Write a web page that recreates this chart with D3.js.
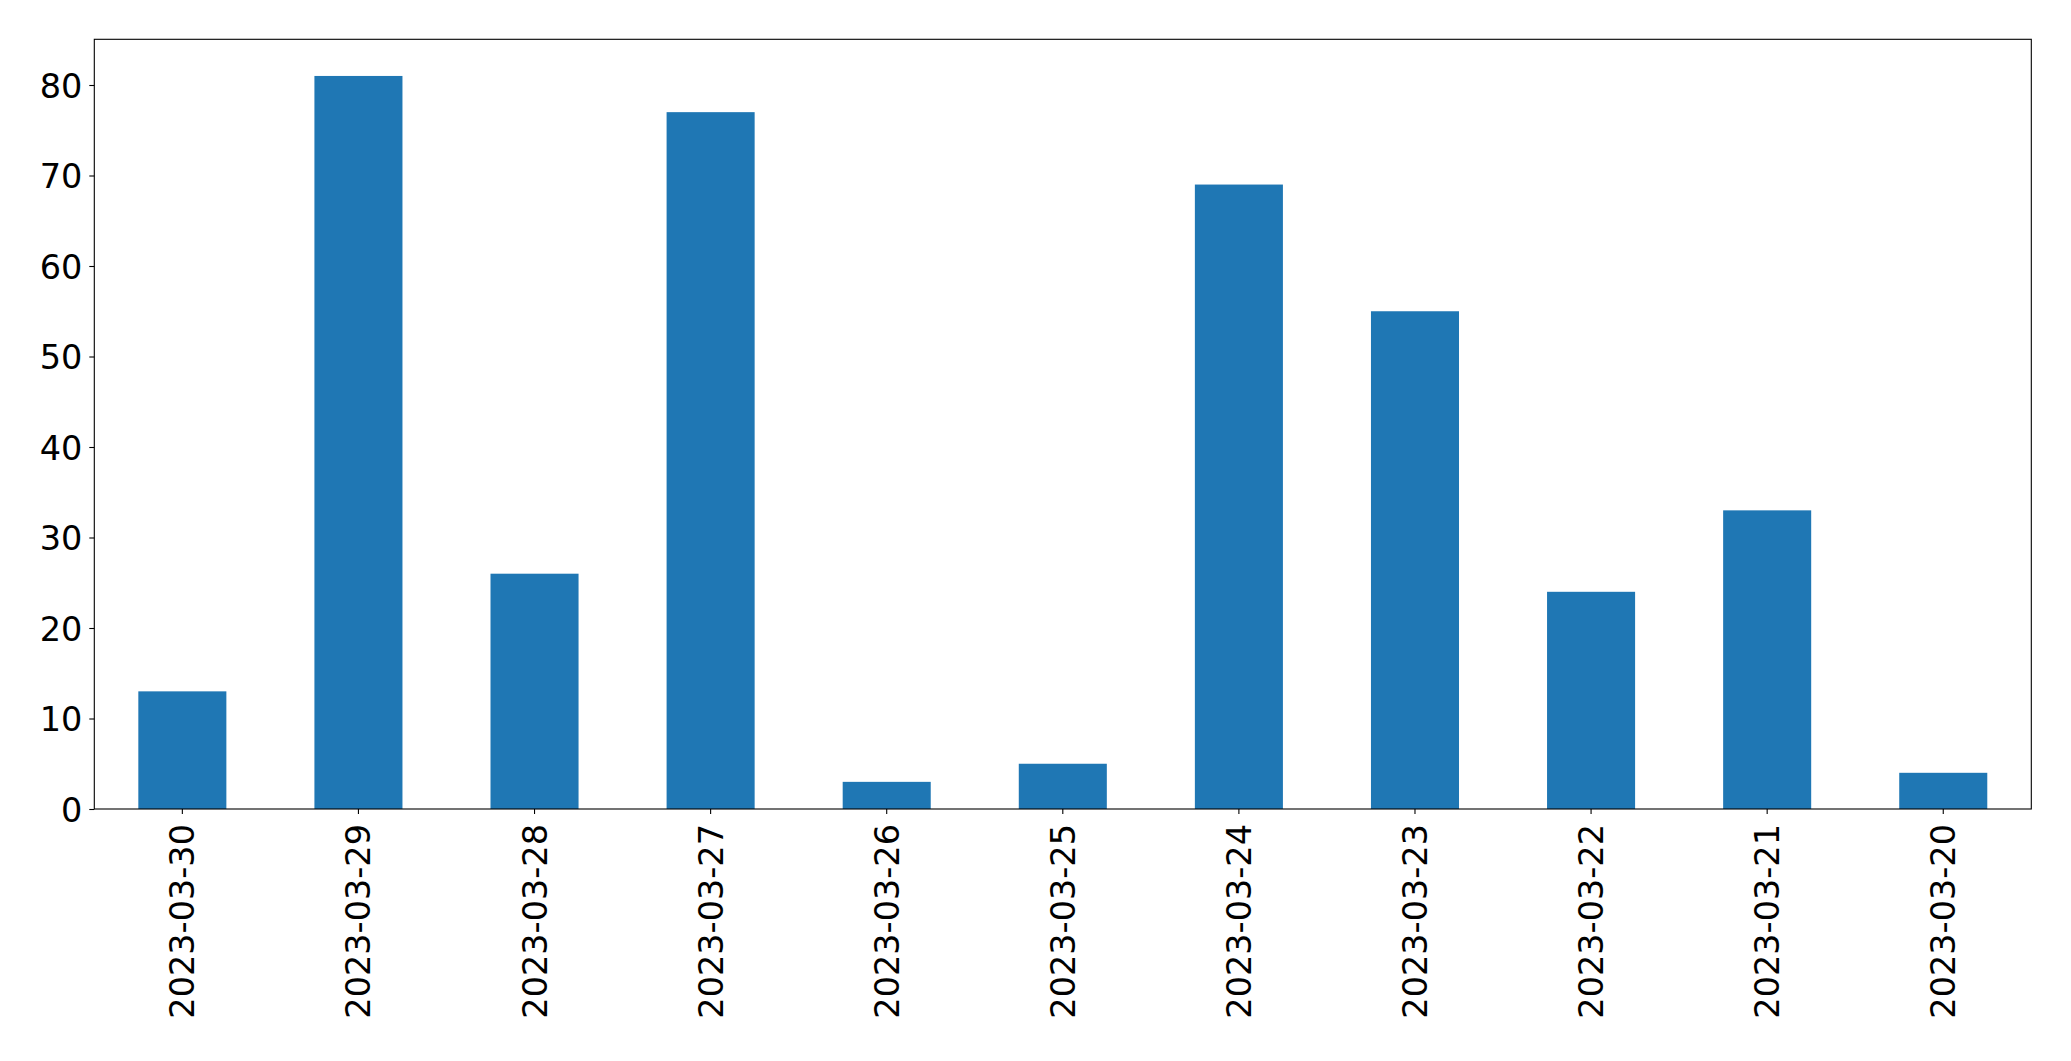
<!DOCTYPE html>
<html>
<head>
<meta charset="utf-8">
<script src="https://cdn.jsdelivr.net/npm/d3@7"></script>
<style>
  html, body { margin: 0; padding: 0; background: #fff; }
  svg { display: block; }
  text { font-family: "DejaVu Sans", sans-serif; fill: #000; }
</style>
</head>
<body>
<svg id="chart" width="2071" height="1061"></svg>
<script>
const categories = ["2023-03-30","2023-03-29","2023-03-28","2023-03-27","2023-03-26","2023-03-25","2023-03-24","2023-03-23","2023-03-22","2023-03-21","2023-03-20"];
const values = [13, 81, 26, 77, 3, 5, 69, 55, 24, 33, 4];
const yTicks = [0, 10, 20, 30, 40, 50, 60, 70, 80];

const W = 2071, H = 1061;
const m = { left: 94.3, top: 39.3, right: 2031.3, bottom: 809 };
const svg = d3.select("#chart");

const x = d3.scaleBand().domain(categories).range([m.left, m.right]).paddingInner(0.5).paddingOuter(0.25);
const y = d3.scaleLinear().domain([0, 85.05]).range([m.bottom, m.top]);

svg.append("g").selectAll("rect").data(values).join("rect")
  .attr("x", (d, i) => x(categories[i]))
  .attr("width", x.bandwidth())
  .attr("y", d => y(d))
  .attr("height", d => y(0) - y(d))
  .attr("fill", "#1f77b4");

// Frame
svg.append("rect")
  .attr("x", m.left).attr("y", m.top)
  .attr("width", m.right - m.left).attr("height", m.bottom - m.top)
  .attr("fill", "none").attr("stroke", "#000").attr("stroke-width", 1.1);

// Y axis
const yAxis = d3.axisLeft(y).tickValues(yTicks).tickSize(5).tickPadding(7).tickFormat(d3.format("d"));
const gy = svg.append("g").attr("transform", `translate(${m.left},0)`).call(yAxis);
gy.select(".domain").remove();
gy.selectAll(".tick line").attr("stroke", "#000").attr("stroke-width", 1.1);
gy.selectAll(".tick text").attr("font-size", "33.5px").attr("dy", "0.36em")
  .style("font-family", "'DejaVu Sans', sans-serif").attr("fill", "#000");

// X axis
const xAxis = d3.axisBottom(x).tickSize(5).tickPadding(0);
const gx = svg.append("g").attr("transform", `translate(0,${m.bottom})`).call(xAxis);
gx.select(".domain").remove();
gx.selectAll(".tick line").attr("stroke", "#000").attr("stroke-width", 1.1);
gx.selectAll(".tick text")
  .attr("font-size", "33.5px")
  .style("font-family", "'DejaVu Sans', sans-serif")
  .attr("fill", "#000")
  .attr("text-anchor", "end")
  .attr("dy", null)
  .attr("y", null)
  .attr("transform", "translate(12,15) rotate(-90)");
</script>
</body>
</html>
